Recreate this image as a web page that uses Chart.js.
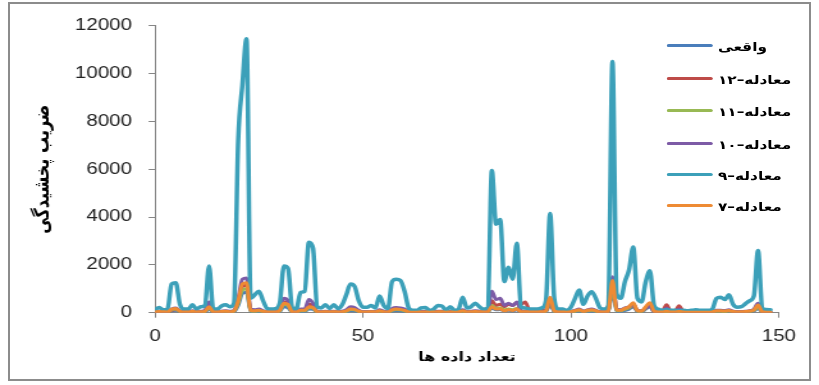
<!DOCTYPE html>
<html><head><meta charset="utf-8">
<script src="https://cdn.jsdelivr.net/npm/chart.js@4.4.1/dist/chart.umd.min.js"></script>
<style>
html,body{margin:0;padding:0;background:#fff;overflow:hidden;width:819px;height:385px;}
#frame{position:absolute;left:8px;top:2px;width:803px;height:379px;border:2px solid #8c8c8c;box-sizing:border-box;}
#wrap{position:absolute;left:0;top:0;width:640px;height:385px;transform:scaleX(1.2797);transform-origin:0 0;}
#c{position:absolute;left:0;top:0;}
#legend{position:absolute;left:521px;top:0;width:115px;height:220px;}
.li{position:absolute;left:0;height:16px;display:flex;align-items:center;white-space:nowrap;}
.ln{width:36px;height:3px;border-radius:1.5px;flex:none;}
.lt{margin-left:4px;font:bold 12px "DejaVu Sans";color:#000;line-height:16px;position:relative;top:2px;}
</style></head><body>
<div id="frame"></div>
<div id="wrap"><canvas id="c" width="640" height="385"></canvas><div id="legend"></div></div>
<script>
const xs = [0,1,2,3,4,5,6,7,8,9,10,11,12,13,14,15,16,17,18,19,20,21,22,23,24,25,26,27,28,29,30,31,32,33,34,35,36,37,38,39,40,41,42,43,44,45,46,47,48,49,50,51,52,53,54,55,56,57,58,59,60,61,62,63,64,65,66,67,68,69,70,71,72,73,74,75,76,77,78,79,80,81,82,83,84,85,86,87,88,89,90,91,92,93,94,95,96,97,98,99,100,101,102,103,104,105,106,107,108,109,110,111,112,113,114,115,116,117,118,119,120,121,122,123,124,125,126,127,128,129,130,131,132,133,134,135,136,137,138,139,140,141,142,143,144,145,146,147,148];
const xTicks = [0,50,100,150];
const yTicks = [0,2000,4000,6000,8000,10000,12000];
const seriesNames = ['واقعی','معادله–۱۲','معادله–۱۱','معادله–۱۰','معادله–۹','معادله–۷'];
const actual = [10,20,15,10,80,100,30,10,10,30,
 10,20,30,150,20,10,20,30,20,40,
 300,800,850,50,40,50,30,10,10,10,
 50,250,200,20,10,50,50,150,140,20,
 10,20,10,20,10,20,40,90,80,30,
 10,10,20,10,40,20,10,70,90,80,
 50,10,5,5,10,10,5,10,20,20,
 5,10,5,10,40,10,20,30,20,10,
 20,200,120,130,80,100,80,120,40,40,
 10,10,10,20,40,350,40,10,10,5,
 20,40,70,30,50,70,40,10,10,30,
 900,70,50,100,150,250,50,30,150,250,
 30,10,10,30,10,10,20,10,5,5,
 5,5,5,5,10,40,40,30,50,20,
 10,20,30,40,70,180,20,5,5];
const eq12 = [30,40,30,30,100,130,50,30,30,50,
 30,40,60,300,40,30,40,50,40,70,
 450,1100,1150,100,80,100,50,30,30,30,
 100,450,380,40,30,100,100,350,300,40,
 30,40,30,40,30,40,80,180,160,60,
 30,30,40,30,80,40,30,140,170,160,
 110,30,20,20,30,30,20,30,40,40,
 20,30,20,30,80,30,40,50,40,30,
 40,500,300,350,250,350,300,420,350,450,
 100,40,60,150,80,450,80,30,30,20,
 40,80,120,50,100,120,80,30,30,60,
 1300,120,100,160,200,300,80,60,200,300,
 60,40,60,330,60,50,290,50,20,20,
 20,20,20,20,30,70,70,60,80,40,
 30,30,40,60,100,300,40,20,20];
const eq11 = [20,40,30,20,120,150,50,20,20,50,
 20,30,50,220,30,20,40,50,30,60,
 400,950,1000,80,60,80,50,20,20,20,
 80,350,300,30,20,80,80,220,200,30,
 20,30,20,30,20,30,60,130,120,50,
 20,20,30,20,60,30,20,100,130,120,
 80,20,10,10,20,20,10,20,30,30,
 10,20,10,20,60,20,30,40,30,20,
 30,300,180,200,120,150,120,180,60,60,
 20,20,20,30,60,500,60,20,20,10,
 30,60,100,40,80,100,60,20,20,50,
 1100,100,80,150,200,350,70,50,200,350,
 50,20,20,50,20,20,40,20,10,10,
 10,10,10,10,20,60,60,50,70,40,
 20,30,40,50,100,250,30,10,10];
const eq10 = [40,60,50,40,150,200,80,40,40,80,
 40,60,100,450,50,40,60,80,60,100,
 600,1400,1450,150,120,150,80,40,40,40,
 150,600,500,60,40,150,150,550,400,60,
 40,60,40,60,40,60,120,250,220,100,
 40,40,50,40,120,60,40,180,220,200,
 150,50,30,30,50,50,30,40,60,60,
 30,50,30,40,120,50,60,80,60,40,
 60,900,550,600,300,400,300,450,80,60,
 40,40,40,50,100,600,100,40,40,30,
 50,100,150,60,120,150,100,40,40,80,
 1500,150,120,200,250,350,100,80,200,280,
 60,40,50,200,50,40,150,40,30,30,
 30,30,30,30,40,100,100,90,120,60,
 40,50,60,80,150,400,50,30,30];
const eq9 = [120,220,120,150,1200,1250,350,150,150,330,
 150,250,300,1950,150,150,280,330,250,400,
 7200,9500,11450,600,750,900,500,170,150,170,
 400,1950,1850,200,170,850,900,2950,2700,250,
 200,330,180,330,170,330,750,1200,1100,500,
 230,230,300,200,700,300,170,1300,1400,1350,
 900,200,100,100,200,220,100,150,300,280,
 100,250,100,150,650,200,250,400,250,150,
 200,5950,3700,3900,1300,1900,1400,2900,250,200,
 150,150,150,200,500,4150,600,150,150,100,
 230,600,950,350,700,880,600,200,150,300,
 10500,800,600,1300,1800,2750,600,450,1300,1750,
 300,150,100,120,100,100,80,100,80,100,
 120,100,100,100,150,600,650,550,750,350,
 230,250,380,500,700,2600,200,130,120];
const eq7 = [30,50,40,30,150,180,60,30,30,60,
 30,40,60,250,40,30,50,60,40,80,
 500,1200,1250,100,80,100,60,30,30,30,
 100,400,350,40,30,100,100,250,220,40,
 30,40,30,40,30,40,80,150,140,60,
 30,30,40,30,80,40,30,120,150,140,
 100,30,20,20,30,30,20,30,40,40,
 20,30,20,30,80,30,40,50,40,30,
 40,250,150,160,80,120,90,150,40,40,
 30,30,30,40,80,650,80,30,30,20,
 40,80,120,50,100,120,80,30,30,60,
 1350,120,100,180,250,420,90,70,250,420,
 60,30,30,60,30,30,50,30,20,20,
 20,20,20,20,30,80,80,70,90,50,
 30,40,50,70,120,320,40,20,20];

const colors = ['#4A7EBB','#BE4B48','#98B954','#7D5BA6','#3CA0B9','#EE8B34'];
const widths = [3, 3, 3, 3, 3.5, 3];
const allSeries = [actual, eq12, eq11, eq10, eq9, eq7];

const datasets = allSeries.map((s, i) => ({
  label: seriesNames[i],
  data: s,
  borderColor: colors[i],
  backgroundColor: colors[i],
  borderWidth: widths[i],
  pointRadius: 0,
  fill: false,
  order: allSeries.length - 1 - i
}));

const tickFont = {family: '"Liberation Sans", Arial, sans-serif', size: 16};

const chart = new Chart(document.getElementById('c'), {
  type: 'line',
  data: {labels: xs, datasets},
  options: {
    responsive: false,
    animation: false,
    devicePixelRatio: 1,
    layout: {padding: {left: 0, right: 31.4, top: 25.7, bottom: 0}},
    elements: {line: {tension: 0.4, cubicInterpolationMode: 'monotone', borderCapStyle: 'round', borderJoinStyle: 'round'}},
    plugins: {legend: {display: false}, tooltip: {enabled: false}},
    scales: {
      x: {
        type: 'linear', min: 0, max: 150,
        afterBuildTicks: s => { s.ticks = xTicks.map(v => ({value: v})); },
        afterFit: s => { s.height = 72.3; },
        ticks: {font: tickFont, color: '#222', padding: 9, maxRotation: 0, callback: v => String(v)},
        grid: {display: true, drawOnChartArea: false, drawTicks: true, tickLength: 5, color: '#868686'},
        border: {display: true, color: '#868686', width: 1},
        title: {display: true, text: 'تعداد داده ها', font: {family: '"DejaVu Sans", sans-serif', size: 12.5, weight: 'bold'}, color: '#000', padding: {top: 0, bottom: 20}}
      },
      y: {
        min: 0, max: 12000,
        afterBuildTicks: s => { s.ticks = yTicks.map(v => ({value: v})); },
        afterFit: s => { s.width = 121.1; },
        ticks: {font: tickFont, color: '#222', padding: 13, callback: v => String(v)},
        grid: {display: true, drawOnChartArea: false, drawTicks: true, tickLength: 5, color: '#868686'},
        border: {display: true, color: '#868686', width: 1},
        title: {display: true, text: 'ضریب پخشیدگی', font: {family: '"DejaVu Sans", sans-serif', size: 16, weight: 'bold'}, color: '#000', padding: {top: 24, bottom: 0}}
      }
    }
  }
});

// legend built from the chart's datasets, overlaid on the plot like the original
const legendCenters = [45, 78, 110, 143, 174, 205];
const lg = document.getElementById('legend');
chart.data.datasets.forEach((d, i) => {
  const row = document.createElement('div');
  row.className = 'li';
  row.style.top = (legendCenters[i] - 8) + 'px';
  const ln = document.createElement('span'); ln.className = 'ln'; ln.style.background = d.borderColor;
  const t = document.createElement('span'); t.className = 'lt'; t.textContent = d.label;
  row.appendChild(ln); row.appendChild(t);
  lg.appendChild(row);
});
</script>
</body></html>
